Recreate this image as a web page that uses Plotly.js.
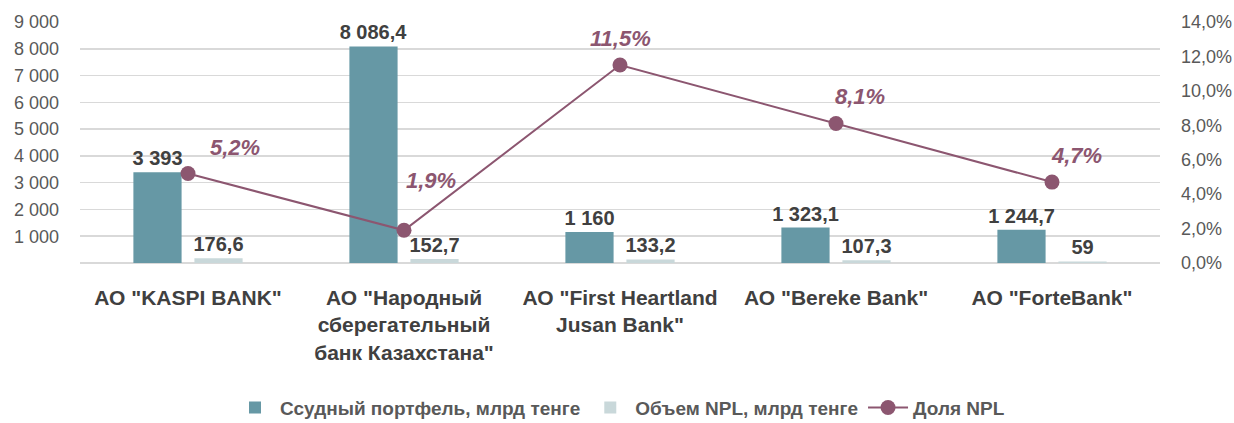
<!DOCTYPE html>
<html><head><meta charset="utf-8">
<script src="https://cdn.plot.ly/plotly-3.0.1.min.js"></script>
<style>html,body{margin:0;padding:0;background:#fff}#chart{width:1234px;height:423px}</style>
</head><body><div id="chart"></div>
<script>
const categories = ['АО "KASPI BANK"', 'АО "Народный<br>сберегательный<br>банк Казахстана"', 'АО "First Heartland<br>Jusan Bank"', 'АО "Bereke Bank"', 'АО "ForteBank"'];
const loanPortfolio = [3393, 8086.4, 1160, 1323.1, 1244.7];
const loanLabels = ['3 393', '8 086,4', '1 160', '1 323,1', '1 244,7'];
const nplVolume = [176.6, 152.7, 133.2, 107.3, 59];
const nplLabels = ['176,6', '152,7', '133,2', '107,3', '59'];
const nplShare = [0.052, 0.019, 0.115, 0.081, 0.047];
const nplShareLabels = ['5,2%', '1,9%', '11,5%', '8,1%', '4,7%'];
const leftTicks = [1000, 2000, 3000, 4000, 5000, 6000, 7000, 8000, 9000];

const FONT = '"Liberation Sans Narrow", "Arial Narrow", "Liberation Sans", Arial, sans-serif';
const labelShiftX = [47, 27, 0, 24, 24];
const labelShiftY = [26, 50, 27, 27, 27];

const traces = [
  {type:'bar', name:'Ссудный портфель, млрд тенге', x:categories, y:loanPortfolio,
   marker:{color:'#6698A5'}, text:loanLabels, textposition:'outside', cliponaxis:false, constraintext:'none',
   textfont:{family:FONT, size:20, color:'#404040', weight:'bold'}, hoverinfo:'none'},
  {type:'bar', name:'Объем NPL, млрд тенге', x:categories, y:nplVolume,
   marker:{color:'#C9D8DA'}, text:nplLabels, textposition:'outside', cliponaxis:false, constraintext:'none',
   textfont:{family:FONT, size:20, color:'#404040', weight:'bold'}, hoverinfo:'none'},
  {type:'scatter', mode:'lines+markers', name:'Доля NPL', x:categories, y:nplShare, yaxis:'y2',
   line:{color:'#8C5670', width:2}, marker:{color:'#8C5670', size:15}, cliponaxis:false, hoverinfo:'none'}
];

const annotations = nplShare.map((v,i)=>({
  x: categories[i], y: v, xref:'x', yref:'y2', text: nplShareLabels[i], showarrow:false,
  xshift: labelShiftX[i], yshift: labelShiftY[i],
  font:{family:FONT, size:22, color:'#8C5670', weight:'bold', style:'italic'}
}));

const layout = {
  width:1234, height:423,
  margin:{l:80, r:74, t:22, b:160, autoexpand:false},
  separators:', ',
  barmode:'group', bargap:0.435, bargroupgap:0.21,
  paper_bgcolor:'#fff', plot_bgcolor:'#fff',
  font:{family:FONT, color:'#595959'},
  xaxis:{tickfont:{family:FONT, size:21, color:'#404040', weight:'bold'}, showgrid:false, automargin:false,
         showline:false, ticks:'', ticklen:0, fixedrange:true, ticklabelstandoff:20},
  yaxis:{range:[0,9000], tickvals:leftTicks, tickformat:',d', showgrid:true, gridcolor:'#D9D9D9', gridwidth:1.5,
         zeroline:true, zerolinecolor:'#D9D9D9', zerolinewidth:1.5, showline:false, automargin:false,
         tickfont:{family:FONT, size:18, color:'#595959'}, ticks:'', ticklabelstandoff:20},
  yaxis2:{range:[0,0.14], dtick:0.02, tick0:0, tickformat:'.1%', overlaying:'y', side:'right',
          showgrid:false, zeroline:false, showline:false, automargin:false,
          tickfont:{family:FONT, size:18, color:'#595959'}, ticks:'', ticklabelstandoff:20},
  legend:{orientation:'h', x:0.5, xanchor:'center', y:-0.6, yanchor:'middle',
          font:{family:FONT, size:19, color:'#595959', weight:'bold'}, itemwidth:40, tracegroupgap:0},
  annotations: annotations,
  showlegend:true
};
Plotly.newPlot('chart', traces, layout, {displayModeBar:false, staticPlot:true});
</script></body></html>
